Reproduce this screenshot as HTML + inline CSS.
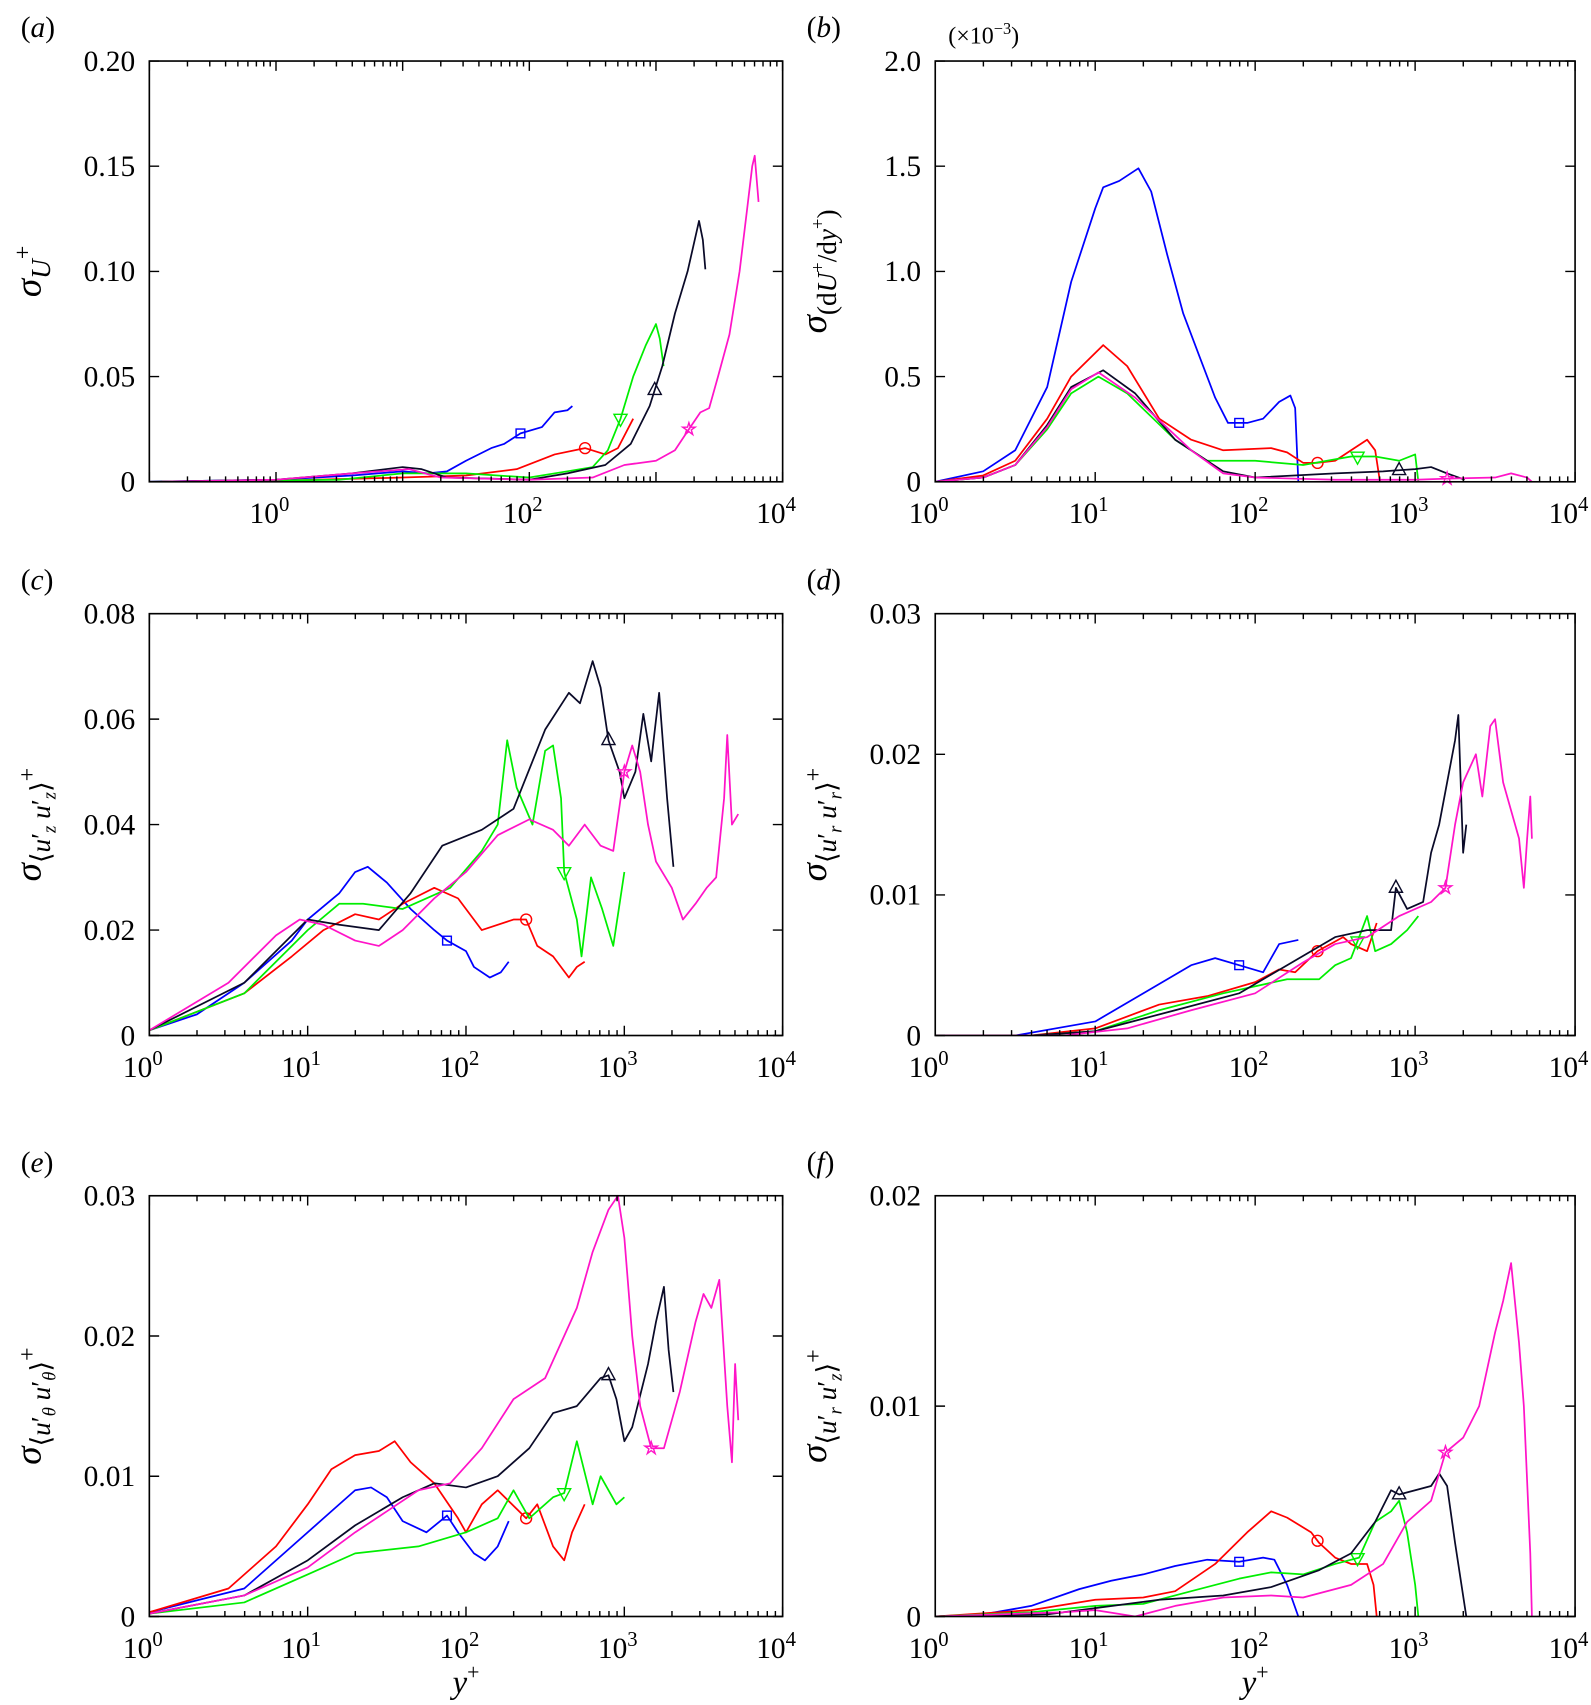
<!DOCTYPE html>
<html><head><meta charset="utf-8"><style>
html,body{margin:0;padding:0;background:#fff}
svg{display:block}
text{font-family:"Liberation Serif",serif;fill:#000}
</style></head><body>
<svg id="fig" font-family="Liberation Serif, serif" width="1591" height="1705" viewBox="0 0 1459.6 1564.2" xmlns="http://www.w3.org/2000/svg"></svg>
<script>
// ---- data: [log10(y+), value] pairs ----
const aBlue=[[-1,0],[0,0.001],[0.6,0.003],[1.0,0.005],[1.2,0.004],[1.35,0.005],[1.5,0.01],[1.7,0.016],[1.8,0.018],[1.93,0.023],[2.1,0.026],[2.2,0.033],[2.3,0.034],[2.34,0.036]];
const aRed=[[-0.9,0],[0,0.0005],[1.0,0.002],[1.5,0.003],[1.9,0.006],[2.2,0.013],[2.44,0.016],[2.6,0.013],[2.7,0.016],[2.82,0.03]];
const aGreen=[[-0.9,0],[0.5,0.001],[1.0,0.004],[1.5,0.004],[2.0,0.002],[2.3,0.005],[2.5,0.007],[2.62,0.015],[2.72,0.03],[2.82,0.05],[2.92,0.065],[3.0,0.075],[3.03,0.068],[3.06,0.055]];
const aBlack=[[-1,0],[0,0.001],[0.6,0.004],[1.0,0.007],[1.15,0.006],[1.35,0.002],[2.0,0.001],[2.3,0.004],[2.6,0.008],[2.8,0.018],[2.95,0.036],[3.05,0.055],[3.15,0.08],[3.25,0.1],[3.34,0.124],[3.37,0.115],[3.39,0.101]];
const aMag=[[-0.9,0],[0,0.001],[0.6,0.004],[1.05,0.006],[1.3,0.002],[2.0,0.001],[2.5,0.002],[2.75,0.008],[3.0,0.01],[3.15,0.015],[3.26,0.025],[3.35,0.033],[3.42,0.035],[3.49,0.05],[3.58,0.07],[3.66,0.1],[3.72,0.13],[3.76,0.15],[3.78,0.155],[3.8,0.14],[3.81,0.133]];

const bBlue=[[0,0],[0.3,0.05],[0.5,0.15],[0.7,0.45],[0.85,0.95],[1.0,1.3],[1.05,1.4],[1.15,1.43],[1.27,1.49],[1.35,1.38],[1.45,1.08],[1.55,0.8],[1.65,0.6],[1.75,0.4],[1.83,0.28],[1.95,0.28],[2.05,0.3],[2.15,0.38],[2.22,0.41],[2.25,0.35],[2.27,0]];
const bRed=[[0,0],[0.3,0.03],[0.5,0.1],[0.7,0.3],[0.85,0.5],[1.05,0.65],[1.2,0.55],[1.4,0.3],[1.6,0.2],[1.8,0.15],[2.1,0.16],[2.2,0.14],[2.3,0.09],[2.39,0.09],[2.5,0.1],[2.6,0.15],[2.7,0.2],[2.75,0.15],[2.78,0]];
const bGreen=[[0,0],[0.3,0.02],[0.5,0.08],[0.7,0.25],[0.85,0.42],[1.02,0.5],[1.2,0.42],[1.5,0.2],[1.7,0.1],[2.0,0.1],[2.3,0.08],[2.6,0.12],[2.75,0.12],[2.9,0.1],[3.0,0.13],[3.02,0]];
const bBlack=[[0,0],[0.3,0.02],[0.5,0.08],[0.7,0.27],[0.85,0.45],[1.05,0.53],[1.25,0.42],[1.5,0.2],[1.8,0.05],[2.0,0.02],[2.5,0.04],[2.8,0.05],[3.0,0.06],[3.1,0.07],[3.2,0.04],[3.31,0.01]];
const bMag=[[0,0],[0.3,0.02],[0.5,0.08],[0.7,0.26],[0.85,0.44],[1.02,0.52],[1.25,0.4],[1.6,0.15],[1.8,0.04],[2.0,0.02],[2.5,0.01],[3.0,0.01],[3.2,0.015],[3.5,0.02],[3.6,0.04],[3.7,0.02],[3.73,0]];

const cBlue=[[0,0.001],[0.3,0.004],[0.6,0.01],[0.9,0.018],[1.0,0.022],[1.2,0.027],[1.3,0.031],[1.38,0.032],[1.5,0.029],[1.65,0.024],[1.8,0.02],[1.88,0.018],[2.0,0.016],[2.05,0.013],[2.15,0.011],[2.22,0.012],[2.27,0.014]];
const cRed=[[0,0.001],[0.6,0.008],[0.9,0.015],[1.1,0.02],[1.3,0.023],[1.45,0.022],[1.6,0.025],[1.8,0.028],[1.95,0.026],[2.1,0.02],[2.3,0.022],[2.38,0.022],[2.45,0.017],[2.55,0.015],[2.65,0.011],[2.7,0.013],[2.75,0.014]];
const cGreen=[[0,0.001],[0.6,0.008],[1.0,0.02],[1.2,0.025],[1.35,0.025],[1.6,0.024],[1.9,0.028],[2.1,0.035],[2.2,0.04],[2.26,0.056],[2.32,0.047],[2.42,0.04],[2.5,0.054],[2.55,0.055],[2.6,0.045],[2.62,0.031],[2.7,0.022],[2.73,0.015],[2.79,0.03],[2.86,0.024],[2.93,0.017],[3.0,0.031]];
const cBlack=[[0,0.001],[0.6,0.01],[1.0,0.022],[1.2,0.021],[1.45,0.02],[1.65,0.027],[1.85,0.036],[2.1,0.039],[2.3,0.043],[2.5,0.058],[2.65,0.065],[2.72,0.063],[2.8,0.071],[2.85,0.066],[2.9,0.056],[2.97,0.05],[3.0,0.045],[3.07,0.05],[3.12,0.061],[3.17,0.052],[3.22,0.065],[3.27,0.045],[3.31,0.032]];
const cMag=[[0,0.001],[0.5,0.01],[0.8,0.019],[0.95,0.022],[1.1,0.021],[1.3,0.018],[1.45,0.017],[1.6,0.02],[1.8,0.026],[2.0,0.031],[2.2,0.038],[2.4,0.041],[2.55,0.039],[2.65,0.036],[2.75,0.04],[2.85,0.036],[2.93,0.035],[3.0,0.05],[3.05,0.055],[3.1,0.05],[3.15,0.04],[3.2,0.033],[3.3,0.028],[3.37,0.022],[3.45,0.025],[3.52,0.028],[3.58,0.03],[3.63,0.045],[3.65,0.057],[3.68,0.04],[3.72,0.042]];

const dBlue=[[0,0],[0.5,0],[1.0,0.001],[1.3,0.003],[1.6,0.005],[1.75,0.0055],[1.9,0.005],[2.05,0.0045],[2.15,0.0065],[2.27,0.0068]];
const dRed=[[0,0],[0.6,0],[1.0,0.0005],[1.4,0.0022],[1.7,0.0028],[2.0,0.0038],[2.15,0.0047],[2.25,0.0045],[2.39,0.006],[2.55,0.007],[2.6,0.0065],[2.7,0.006],[2.76,0.008]];
const dGreen=[[0,0],[0.6,0],[1.0,0.0003],[1.4,0.0018],[1.8,0.003],[2.2,0.004],[2.4,0.004],[2.5,0.005],[2.6,0.0055],[2.65,0.007],[2.7,0.0085],[2.75,0.006],[2.85,0.0065],[2.95,0.0075],[3.02,0.0085]];
const dBlack=[[0,0],[0.6,0],[1.0,0.0003],[1.5,0.0018],[1.9,0.003],[2.2,0.005],[2.5,0.007],[2.7,0.0075],[2.85,0.0075],[2.88,0.0105],[2.95,0.009],[3.05,0.0095],[3.1,0.013],[3.15,0.015],[3.2,0.018],[3.25,0.021],[3.27,0.0228],[3.3,0.013],[3.32,0.015]];
const dMag=[[0,0],[0.8,0],[1.2,0.0005],[1.6,0.0018],[2.0,0.003],[2.3,0.0052],[2.5,0.0065],[2.7,0.007],[2.9,0.0085],[3.1,0.0095],[3.19,0.0105],[3.25,0.015],[3.3,0.018],[3.38,0.02],[3.42,0.017],[3.47,0.022],[3.5,0.0225],[3.55,0.018],[3.6,0.016],[3.65,0.014],[3.68,0.0105],[3.7,0.014],[3.72,0.017],[3.73,0.014]];

const eRed=[[0,0.0003],[0.5,0.002],[0.8,0.005],[1.0,0.008],[1.15,0.0105],[1.3,0.0115],[1.45,0.0118],[1.55,0.0125],[1.65,0.011],[1.8,0.0095],[1.95,0.007],[2.0,0.006],[2.1,0.008],[2.2,0.009],[2.38,0.007],[2.45,0.008],[2.55,0.005],[2.62,0.004],[2.67,0.006],[2.75,0.008]];
const eBlue=[[0,0.0003],[0.6,0.002],[0.9,0.005],[1.1,0.007],[1.3,0.009],[1.4,0.0092],[1.5,0.0085],[1.6,0.0068],[1.75,0.006],[1.88,0.0072],[1.95,0.006],[2.05,0.0045],[2.12,0.004],[2.2,0.005],[2.27,0.0068]];
const eBlack=[[0,0.0002],[0.6,0.0015],[1.0,0.004],[1.3,0.0065],[1.6,0.0085],[1.8,0.0095],[2.0,0.0092],[2.2,0.01],[2.4,0.012],[2.55,0.0145],[2.7,0.015],[2.85,0.017],[2.9,0.0172],[2.95,0.0155],[3.0,0.0125],[3.05,0.0135],[3.15,0.018],[3.2,0.021],[3.25,0.0235],[3.28,0.019],[3.31,0.016]];
const eGreen=[[0,0.0002],[0.6,0.001],[1.0,0.003],[1.3,0.0045],[1.7,0.005],[2.0,0.006],[2.2,0.007],[2.3,0.009],[2.4,0.007],[2.55,0.0085],[2.62,0.0088],[2.7,0.0125],[2.8,0.008],[2.85,0.01],[2.95,0.008],[3.0,0.0085]];
const eMag=[[0,0.0002],[0.6,0.0015],[1.0,0.0035],[1.3,0.006],[1.5,0.0075],[1.7,0.009],[1.9,0.0095],[2.1,0.012],[2.3,0.0155],[2.5,0.017],[2.7,0.022],[2.8,0.026],[2.9,0.029],[2.96,0.03],[3.0,0.027],[3.05,0.02],[3.1,0.015],[3.17,0.012],[3.25,0.012],[3.35,0.016],[3.45,0.021],[3.5,0.023],[3.55,0.022],[3.6,0.024],[3.65,0.015],[3.68,0.011],[3.7,0.018],[3.72,0.014]];

const fBlue=[[0,0],[0.3,0.0001],[0.6,0.0005],[0.9,0.0013],[1.1,0.0017],[1.3,0.002],[1.5,0.0024],[1.7,0.0027],[1.9,0.0026],[2.05,0.0028],[2.12,0.0027],[2.2,0.0015],[2.27,0]];
const fRed=[[0,0],[0.6,0.0003],[1.0,0.0008],[1.3,0.0009],[1.5,0.0012],[1.75,0.0025],[1.95,0.004],[2.1,0.005],[2.2,0.0047],[2.35,0.004],[2.4,0.0035],[2.5,0.0028],[2.6,0.0025],[2.7,0.0025],[2.74,0.0015],[2.76,0]];
const fGreen=[[0,0],[0.6,0.0002],[1.0,0.0005],[1.3,0.0006],[1.6,0.0012],[1.9,0.0018],[2.1,0.0021],[2.3,0.002],[2.5,0.0025],[2.65,0.0028],[2.75,0.0045],[2.85,0.005],[2.9,0.0055],[2.95,0.004],[3.0,0.0015],[3.02,0]];
const fBlack=[[0,0],[0.7,0.0001],[1.0,0.0004],[1.4,0.0008],[1.8,0.001],[2.1,0.0014],[2.4,0.0022],[2.6,0.003],[2.75,0.0045],[2.85,0.006],[2.9,0.0058],[3.0,0.006],[3.1,0.0062],[3.15,0.0068],[3.2,0.0062],[3.25,0.0035],[3.32,0]];
const fMag=[[0,0],[0.8,0.0002],[1.0,0.0003],[1.25,0],[1.5,0.0005],[1.8,0.0009],[2.1,0.001],[2.3,0.0009],[2.6,0.0015],[2.8,0.0025],[2.95,0.0045],[3.1,0.0055],[3.19,0.0078],[3.3,0.0085],[3.4,0.01],[3.5,0.0135],[3.55,0.015],[3.6,0.0168],[3.65,0.013],[3.68,0.01],[3.72,0.003],[3.73,0]];

// marker positions (log10 y+) per panel: blue, red, green, black, magenta
const markA=[1.93,2.44,2.72,2.99,3.26];
const markB=[1.9,2.39,2.64,2.9,3.2];
const markC=[1.88,2.38,2.62,2.9,3.0];
const markD=[1.9,2.39,2.64,2.88,3.19];
const markE=[1.88,2.38,2.62,2.9,3.17];
const markF=[1.9,2.39,2.64,2.9,3.19];

const yTicksA=["0","0.05","0.10","0.15","0.20"];
const yTicksB=["0","0.5","1.0","1.5","2.0"];
const yTicksC=["0","0.02","0.04","0.06","0.08"];
const yTicksD=["0","0.01","0.02","0.03"];
const yTicksE=["0","0.01","0.02","0.03"];
const yTicksF=["0","0.01","0.02"];
const xLabA=[0,2,4];
const xLabStd=[0,1,2,3,4];

const COLORS=["#0000ff","#ff0000","#00ee00","#0a0a28","#ff14c8"];
const MARKS=["square","circle","tridown","triup","star"];
const NS="http://www.w3.org/2000/svg";
const svg=document.getElementById('fig');
function mk(tag,attrs,parent){const e=document.createElementNS(NS,tag);for(const k in attrs)e.setAttribute(k,attrs[k]);(parent||svg).appendChild(e);return e;}

function interp(s,lx){for(let i=0;i<s.length-1;i++){if(lx>=s[i][0]&&lx<=s[i+1][0]){const t=(lx-s[i][0])/(s[i+1][0]-s[i][0]);return s[i][1]+t*(s[i+1][1]-s[i][1]);}}return s[s.length-1][1];}

function panel(id,L,T,R,B,xmin,xmax,ymax,yTicks,xLabs,series,marks,letter,ylabel,xlabel){
  const g=mk('g',{});
  
  
  const sx=v=>L+(v-xmin)/(xmax-xmin)*(R-L);
  const sy=v=>B-v/ymax*(B-T);
  const cp=mk('clipPath',{id:'clip'+id},g);mk('rect',{x:L,y:T-2,width:R-L,height:B-T+2},cp);
  series.forEach((s,i)=>{
    const d=s.map((p,j)=>(j?'L':'M')+sx(p[0]).toFixed(1)+' '+sy(p[1]).toFixed(1)).join(' ');
    const p=mk('path',{d:d,fill:'none',stroke:COLORS[i],'stroke-width':1.6,'stroke-linejoin':'round','clip-path':'url(#clip'+id+')'},g);
    
    
    const mx=sx(marks[i]),my=sy(interp(s,marks[i]));
    let m;const r=5;
    if(MARKS[i]=='square')m=mk('rect',{x:mx-r+1,y:my-r+1,width:2*r-2,height:2*r-2},g);
    else if(MARKS[i]=='circle')m=mk('circle',{cx:mx,cy:my,r:r},g);
    else if(MARKS[i]=='tridown')m=mk('path',{d:`M${mx-r-1} ${my-r+1} L${mx+r+1} ${my-r+1} L${mx} ${my+r+2} Z`},g);
    else if(MARKS[i]=='triup')m=mk('path',{d:`M${mx-r-1} ${my+r-1} L${mx+r+1} ${my+r-1} L${mx} ${my-r-2} Z`},g);
    else{let pts=[];for(let k=0;k<10;k++){const a=-Math.PI/2+k*Math.PI/5,rr=k%2?r*0.45:r*1.2;pts.push((mx+rr*Math.cos(a)).toFixed(1)+','+(my+rr*Math.sin(a)).toFixed(1));}m=mk('polygon',{points:pts.join(' ')},g);}
    m.setAttribute('fill','none');m.setAttribute('stroke',COLORS[i]);m.setAttribute('stroke-width','1.3');
    
    
  });
  const fr=mk('rect',{x:L,y:T,width:R-L,height:B-T,fill:'none',stroke:'#000','stroke-width':1.5},g);
  
  
  let tk='';
  for(let dcd=Math.floor(xmin);dcd<=xmax;dcd++){
    for(let m=1;m<10;m++){const lv=dcd+Math.log10(m);if(lv<xmin-1e-6||lv>xmax+1e-6)continue;const x=sx(lv);const len=m==1?9:5;tk+=`M${x} ${B}v${-len}M${x} ${T}v${len}`;}
  }
  xLabs.forEach(dcd=>{
    const x=sx(dcd);
    const t=mk('text',{x:x-6,y:B+38,'font-size':27,'text-anchor':'middle'},g);
    
    
    t.appendChild(document.createTextNode('10'));
    const sp=mk('tspan',{'font-size':19,dy:-11},t);sp.textContent=String(dcd);
  });
  const n=yTicks.length-1;
  yTicks.forEach((lab,i)=>{const y=B-i/n*(B-T);tk+=`M${L} ${y}h9M${R} ${y}h-9`;
    const t=mk('text',{x:L-13,y:y+9,'font-size':27,'text-anchor':'end'},g);t.textContent=lab;
    
    });
  mk('path',{d:tk,stroke:'#000','stroke-width':1.3,fill:'none'},g);
  const pl=mk('text',{x:L-118,y:T-22,'font-size':27},g);
  
  
  pl.appendChild(document.createTextNode('('));const it=mk('tspan',{'font-style':'italic'},pl);it.textContent=letter;pl.appendChild(document.createTextNode(')'));
  const yl=mk('g',{transform:`translate(${L-100},${(T+B)/2}) rotate(-90)`},g);
  
  
  yl.innerHTML=ylabel;
  if(xlabel){const xl=mk('text',{x:(L+R)/2,y:B+70,'font-size':30,'font-style':'italic','text-anchor':'middle'},g);
    
    
    xl.innerHTML='y<tspan font-style="normal" font-size="20" dy="-12">+</tspan>';}
  return g;
}
const sig='<tspan font-size="34" font-style="italic">σ</tspan>';
function corr(a,b){
  return `<text text-anchor="middle" font-size="30" font-family="Liberation Serif, serif">${sig}<tspan font-size="25" dy="9">⟨<tspan font-style="italic">u</tspan>′<tspan font-size="17" font-style="italic" dy="5">${a}</tspan><tspan dy="-5"> </tspan><tspan font-style="italic">u</tspan>′<tspan font-size="17" font-style="italic" dy="5">${b}</tspan><tspan dy="-5">⟩</tspan></tspan><tspan font-size="22" dy="-14">+</tspan></text>`;
}
panel('a',137,56,718,442,-1,4,0.2,yTicksA,xLabA,[aBlue,aRed,aGreen,aBlack,aMag],markA,'a',
 `<text text-anchor="middle" font-size="30">${sig}<tspan font-style="italic" font-size="25" dy="9">U</tspan><tspan font-size="22" dy="-18">+</tspan></text>`);
panel('b',858,56,1445,442,0,4,2.0,yTicksB,xLabStd,[bBlue,bRed,bGreen,bBlack,bMag],markB,'b',
 `<text text-anchor="middle" font-size="30">${sig}<tspan font-size="25" dy="9">(d<tspan font-style="italic">U</tspan><tspan font-size="17" dy="-11">+</tspan><tspan dy="11">/d</tspan><tspan font-style="italic">y</tspan><tspan font-size="17" dy="-11">+</tspan><tspan dy="11">)</tspan></tspan></text>`);
panel('c',137,563,718,950,0,4,0.08,yTicksC,xLabStd,[cBlue,cRed,cGreen,cBlack,cMag],markC,'c',corr('z','z'));
panel('d',858,563,1445,950,0,4,0.03,yTicksD,xLabStd,[dBlue,dRed,dGreen,dBlack,dMag],markD,'d',corr('r','r'));
panel('e',137,1097,718,1483,0,4,0.03,yTicksE,xLabStd,[eBlue,eRed,eGreen,eBlack,eMag],markE,'e',corr('θ','θ'),true);
panel('f',858,1097,1445,1483,0,4,0.02,yTicksF,xLabStd,[fBlue,fRed,fGreen,fBlack,fMag],markF,'f',corr('r','z'),true);
const sc=mk('text',{x:870,y:40,'font-size':22});


sc.innerHTML='(×10<tspan font-size="15" dy="-9">−3</tspan><tspan dy="9">)</tspan>';
</script>
</body></html>
